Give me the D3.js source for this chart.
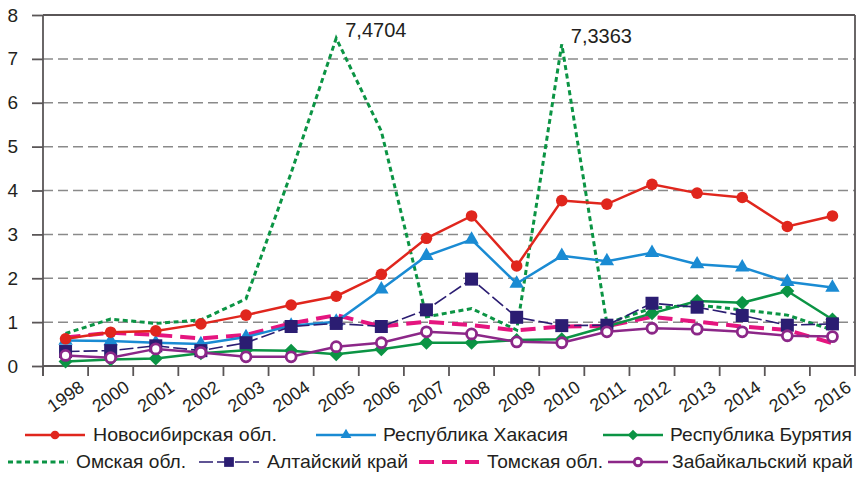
<!DOCTYPE html>
<html>
<head>
<meta charset="utf-8">
<script src="https://cdn.jsdelivr.net/npm/d3@7"></script>
<style>
  body { margin: 0; background: #fff; }
  svg text { font-family: "Liberation Sans", Arial, sans-serif; fill: #231f20; }
</style>
</head>
<body>
<div id="graph-div"></div>
<script>
'use strict'

const years = ['1998','2000','2001','2002','2003','2004','2005','2006','2007','2008','2009','2010','2011','2012','2013','2014','2015','2016']
const yTicks = [0,1,2,3,4,5,6,7,8]

const novosibirsk = [0.62,0.77,0.80,0.96,1.16,1.39,1.59,2.09,2.91,3.42,2.28,3.77,3.69,4.14,3.94,3.84,3.18,3.42]
const khakasia    = [0.58,0.57,0.53,0.50,0.66,0.92,1.01,1.75,2.51,2.88,1.88,2.51,2.39,2.58,2.32,2.25,1.92,1.79]
const buryatia    = [0.10,0.15,0.17,0.29,0.36,0.35,0.27,0.38,0.53,0.53,0.59,0.61,0.90,1.20,1.48,1.44,1.71,1.06]
const omsk        = [0.74,1.07,0.97,1.05,1.53,4.40,7.4704,5.35,1.12,1.31,0.82,7.3363,0.97,1.32,1.39,1.28,1.16,0.82]
const altai       = [0.33,0.35,0.46,0.35,0.53,0.90,0.97,0.90,1.28,1.98,1.11,0.92,0.93,1.43,1.34,1.15,0.93,0.96]
const tomsk       = [0.65,0.76,0.71,0.63,0.71,0.97,1.16,0.90,1.01,0.93,0.81,0.90,0.91,1.12,1.01,0.90,0.82,0.52]
const zabaikal    = [0.24,0.19,0.39,0.31,0.21,0.21,0.44,0.53,0.78,0.73,0.55,0.53,0.78,0.86,0.84,0.78,0.69,0.67]

const peakLabels = [['2005', 7.4704, '7,4704'], ['2010', 7.3363, '7,3363']]

// series styles, draw order = array order; legend: row, line x, text x, text width
const series = [
  {name: 'Омская обл.',          values: omsk,        color: '#0b9444', width: 3,   dash: '5,3.5', marker: 'none',     row: 1, lx: 8,   tx: 76,  tw: 110},
  {name: 'Томская обл.',         values: tomsk,       color: '#e5157f', width: 4,   dash: '15,8',  marker: 'none',     row: 1, lx: 419, tx: 487, tw: 116},
  {name: 'Республика Бурятия',   values: buryatia,    color: '#0b9444', width: 2.5, dash: null,    marker: 'diamond',  row: 0, lx: 603, tx: 670, tw: 182},
  {name: 'Республика Хакасия',   values: khakasia,    color: '#1a8bd3', width: 2.5, dash: null,    marker: 'triangle', row: 0, lx: 316, tx: 383, tw: 185},
  {name: 'Новосибирская обл.',   values: novosibirsk, color: '#e0261d', width: 2.5, dash: null,    marker: 'circle',   row: 0, lx: 25,  tx: 93,  tw: 184},
  {name: 'Алтайский край',       values: altai,       color: '#2b1d72', width: 1.6, dash: '14,4',  marker: 'square',   row: 1, lx: 199, tx: 267, tw: 141},
  {name: 'Забайкальский край',   values: zabaikal,    color: '#8c2788', width: 2.5, dash: null,    marker: 'ring',     row: 1, lx: 608, tx: 672, tw: 181}
]

const width = 857, height = 485
const plot = {left: 43, right: 855, top: 15, bottom: 366}

const svg = d3.select('#graph-div').append('svg').attr('width', width).attr('height', height)

const xScale = d3.scaleBand().domain(years).range([plot.left, plot.right])
const yScale = d3.scaleLinear().domain([0, 8]).range([plot.bottom, plot.top])
const cx = y => xScale(y) + xScale.bandwidth() / 2

// grid
svg.append('g').selectAll('line').data(yTicks.filter(d => d > 0 && d < 8)).enter().append('line')
  .attr('x1', plot.left).attr('x2', plot.right)
  .attr('y1', d => yScale(d)).attr('y2', d => yScale(d))
  .attr('stroke', '#8a8a8a').attr('stroke-width', 1.5).attr('stroke-dasharray', '10,5')

// frame top/right
svg.append('line').attr('x1', plot.left).attr('x2', plot.right).attr('y1', yScale(8)).attr('y2', yScale(8))
  .attr('stroke', '#5a5657').attr('stroke-width', 1.8)
svg.append('line').attr('x1', plot.right).attr('x2', plot.right).attr('y1', yScale(8)).attr('y2', plot.bottom + 10)
  .attr('stroke', '#5a5657').attr('stroke-width', 1.8)

// y axis
const yAxis = svg.append('g').attr('transform', 'translate(' + plot.left + ',0)')
  .call(d3.axisLeft(yScale).tickValues(yTicks).tickSize(11).tickPadding(14).tickFormat(d3.format('d')))
yAxis.select('.domain').attr('stroke', '#5a5657').attr('stroke-width', 1.8).attr('d', 'M0,' + plot.top + 'V' + (plot.bottom + 10))
yAxis.selectAll('.tick line').attr('stroke', '#5a5657').attr('stroke-width', 1.8)
yAxis.selectAll('.tick text').attr('font-size', 19).attr('fill', '#231f20')

// x axis: ticks at band boundaries, labels rotated
const xg = svg.append('g')
xg.append('line').attr('x1', plot.left).attr('x2', plot.right).attr('y1', plot.bottom).attr('y2', plot.bottom)
  .attr('stroke', '#5a5657').attr('stroke-width', 1.8)
xg.selectAll('.xtick').data(years).enter().append('line')
  .attr('x1', d => xScale(d)).attr('x2', d => xScale(d))
  .attr('y1', plot.bottom).attr('y2', plot.bottom + 10)
  .attr('stroke', '#5a5657').attr('stroke-width', 1.8)
xg.selectAll('.xlabel').data(years).enter().append('text')
  .attr('text-anchor', 'end').attr('font-size', 18)
  .attr('transform', d => 'translate(' + (cx(d) + 20) + ',' + (plot.bottom + 24) + ') rotate(-35)')
  .text(d => d)

function drawMarker(g, type, x, y, s, color) {
  if (type === 'circle') {
    g.append('circle').attr('cx', x).attr('cy', y).attr('r', 5.8 * s).attr('fill', color)
  } else if (type === 'ring') {
    g.append('circle').attr('cx', x).attr('cy', y).attr('r', 5 * s).attr('fill', '#fff')
      .attr('stroke', color).attr('stroke-width', 2.8)
  } else if (type === 'square') {
    g.append('rect').attr('x', x - 6.5 * s).attr('y', y - 6.5 * s).attr('width', 13 * s).attr('height', 13 * s).attr('fill', color)
  } else if (type === 'triangle') {
    g.append('path').attr('d', d3.symbol(d3.symbolTriangle, 90 * s * s)()).attr('transform', 'translate(' + x + ',' + y + ')').attr('fill', color)
  } else if (type === 'diamond') {
    const r = 7 * s
    g.append('path').attr('d', 'M' + x + ',' + (y - r) + 'L' + (x + r) + ',' + y + 'L' + x + ',' + (y + r) + 'L' + (x - r) + ',' + y + 'Z').attr('fill', color)
  }
}

const line = d3.line().x(d => cx(d.year)).y(d => yScale(d.v))

series.forEach(function(s) {
  const pts = years.map((y, i) => ({year: y, v: s.values[i]}))
  const g = svg.append('g')
  g.append('path').datum(pts).attr('d', line).attr('fill', 'none')
    .attr('stroke', s.color).attr('stroke-width', s.width)
    .attr('stroke-dasharray', s.dash)
  pts.forEach(p => drawMarker(g, s.marker, cx(p.year), yScale(p.v), 1, s.color))
})

// peak annotations
svg.selectAll('.peak').data(peakLabels).enter().append('text')
  .attr('x', d => cx(d[0]) + 9).attr('y', d => yScale(d[1]) - 1)
  .attr('font-size', 20).text(d => d[2])

// legend
const legRows = [441, 468]
series.forEach(function(s) {
  const y = legRows[s.row] - 6
  const g = svg.append('g')
  g.append('line').attr('x1', s.lx).attr('x2', s.lx + 60).attr('y1', y).attr('y2', y)
    .attr('stroke', s.color).attr('stroke-width', s.width).attr('stroke-dasharray', s.dash)
  drawMarker(g, s.marker, s.lx + 30, y, 0.75, s.color)
  g.append('text').attr('x', s.tx).attr('y', legRows[s.row]).attr('font-size', 19)
    .attr('textLength', s.tw).attr('lengthAdjust', 'spacingAndGlyphs').text(s.name)
})
</script>
</body>
</html>
